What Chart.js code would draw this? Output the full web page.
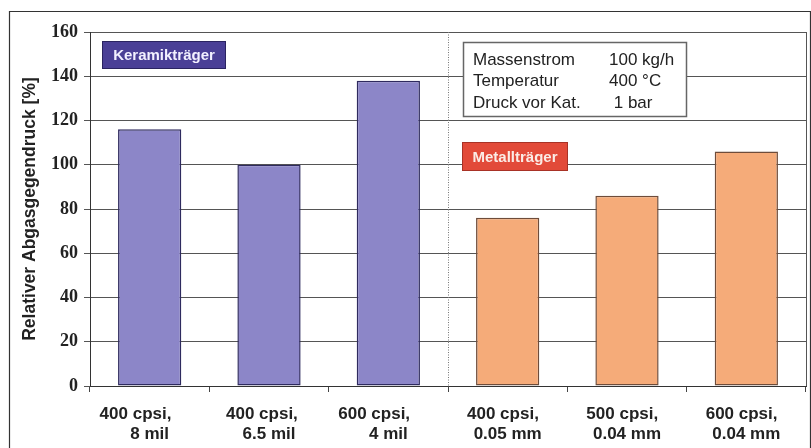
<!DOCTYPE html>
<html>
<head>
<meta charset="utf-8">
<script src="https://cdn.jsdelivr.net/npm/chart.js@4/dist/chart.umd.min.js"></script>
<style>
  html, body { margin: 0; padding: 0; background: #fff; }
  canvas { display: block; }
</style>
</head>
<body>
<canvas id="c" width="811" height="448"></canvas>
<script>
// Substrate variants (two-line tick labels; trailing spaces nudge the first line left)
const categories = [
  ['400 cpsi,      ', '8 mil'],
  ['400 cpsi,   ', '6.5 mil'],
  ['600 cpsi,      ', '4 mil'],
  ['400 cpsi,  ', '0.05 mm'],
  ['500 cpsi,  ', '0.04 mm'],
  ['600 cpsi,  ', '0.04 mm']
];
// Relative exhaust back pressure in %
const backPressure = [116, 100, 138, 76, 86, 106];
const substrateGroup = ['ceramic', 'ceramic', 'ceramic', 'metal', 'metal', 'metal'];
const yTicks = [0, 20, 40, 60, 80, 100, 120, 140, 160];
const yTitle = 'Relativer Abgasgegendruck [%]';
const ceramicLabel = 'Keramikträger';
const metalLabel = 'Metallträger';
const conditionNames = ['Massenstrom', 'Temperatur', 'Druck vor Kat.'];
const conditionValues = ['100 kg/h', '400 °C', ' 1 bar'];

const fillByGroup = { ceramic: '#8c86c8', metal: '#f5ab79' };
const edgeByGroup = { ceramic: '#2e2a5e', metal: '#6e4c3a' };

const SANS = '"Liberation Sans", Arial, sans-serif';
const SERIF = '"Liberation Serif", "Times New Roman", serif';

const decorations = {
  id: 'decorations',
  beforeDraw(chart) {
    const ctx = chart.ctx;
    ctx.save();
    ctx.fillStyle = '#fff';
    ctx.fillRect(0, 0, chart.width, chart.height);
    // outer frame
    ctx.strokeStyle = '#333';
    ctx.lineWidth = 1.2;
    ctx.beginPath();
    ctx.moveTo(9.5, chart.height + 2);
    ctx.lineTo(9.5, 11.5);
    ctx.lineTo(810.5, 11.5);
    ctx.lineTo(810.5, chart.height + 2);
    ctx.stroke();
    ctx.restore();
  },
  afterDatasetsDraw(chart) {
    const ctx = chart.ctx;
    const area = chart.chartArea;
    const xs = chart.scales.x;
    ctx.save();

    // right edge of the plot area
    ctx.strokeStyle = '#555';
    ctx.lineWidth = 1;
    ctx.beginPath();
    ctx.moveTo(Math.round(area.right) + 0.5, area.top);
    ctx.lineTo(Math.round(area.right) + 0.5, area.bottom);
    ctx.stroke();

    // dotted divider between ceramic and metal substrates
    const divX = Math.round((xs.getPixelForValue(2) + xs.getPixelForValue(3)) / 2) + 0.5;
    ctx.strokeStyle = '#777';
    ctx.setLineDash([1, 1.5]);
    ctx.beginPath();
    ctx.moveTo(divX, area.top);
    ctx.lineTo(divX, area.bottom);
    ctx.stroke();
    ctx.setLineDash([]);

    // group tags
    function tag(text, x, y, w, h, fill, edge, color) {
      ctx.fillStyle = fill;
      ctx.fillRect(x, y, w, h);
      ctx.strokeStyle = edge;
      ctx.lineWidth = 1;
      ctx.strokeRect(x + 0.5, y + 0.5, w - 1, h - 1);
      ctx.fillStyle = color;
      ctx.font = 'bold 15px ' + SANS;
      ctx.textAlign = 'center';
      ctx.textBaseline = 'middle';
      ctx.fillText(text, x + w / 2, y + h / 2 + 1);
    }
    tag(ceramicLabel, 102, 41, 124, 28, '#4a3f96', '#2a2360', '#f2f0ff');
    tag(metalLabel, 462, 142, 106, 29, '#e24a39', '#a83226', '#fbece6');

    // operating conditions box
    ctx.fillStyle = '#fff';
    ctx.fillRect(463, 42, 224, 75);
    ctx.strokeStyle = '#666';
    ctx.lineWidth = 1.5;
    ctx.strokeRect(463.5, 42.5, 223, 74);
    ctx.fillStyle = '#222';
    ctx.font = '17px ' + SANS;
    ctx.textAlign = 'left';
    ctx.textBaseline = 'alphabetic';
    for (let i = 0; i < conditionNames.length; i++) {
      const by = 65 + i * 21.3;
      ctx.fillText(conditionNames[i], 473, by);
      ctx.fillText(conditionValues[i], 609, by);
    }
    ctx.restore();
  }
};

new Chart(document.getElementById('c'), {
  type: 'bar',
  data: {
    labels: categories,
    datasets: [{
      data: backPressure,
      backgroundColor: substrateGroup.map(g => fillByGroup[g]),
      borderColor: substrateGroup.map(g => edgeByGroup[g]),
      borderWidth: 1.5,
      borderSkipped: false,
      barPercentage: 0.53,
      categoryPercentage: 1.0
    }]
  },
  options: {
    responsive: false,
    animation: false,
    devicePixelRatio: 1,
    layout: { padding: { left: 0, top: 32, right: 5, bottom: 0 } },
    plugins: {
      legend: { display: false },
      tooltip: { enabled: false }
    },
    scales: {
      x: {
        afterFit(s) { s.height = 62; },
        grid: {
          display: true,
          offset: true,
          drawOnChartArea: false,
          drawTicks: true,
          tickLength: 6,
          color: '#444',
          lineWidth: 1
        },
        border: { display: true, color: '#333', width: 1 },
        ticks: {
          color: '#222',
          padding: 12,
          maxRotation: 0,
          autoSkip: false,
          font: { family: SANS, size: 17, weight: 'bold', lineHeight: 1.2 }
        }
      },
      y: {
        min: 0,
        max: 160,
        afterFit(s) { s.width = 90; },
        afterBuildTicks(s) { s.ticks = yTicks.map(v => ({ value: v })); },
        grid: {
          color: '#555',
          lineWidth: 1,
          tickLength: 6,
          drawTicks: true
        },
        border: { display: true, color: '#333', width: 1 },
        ticks: {
          color: '#222',
          padding: 6,
          font: { family: SERIF, size: 18, weight: 'bold' }
        },
        title: {
          display: true,
          text: yTitle,
          color: '#222',
          padding: { top: 20, bottom: 0 },
          font: { family: SANS, size: 17.5, weight: 'bold' }
        }
      }
    }
  },
  plugins: [decorations]
});
</script>
</body>
</html>
